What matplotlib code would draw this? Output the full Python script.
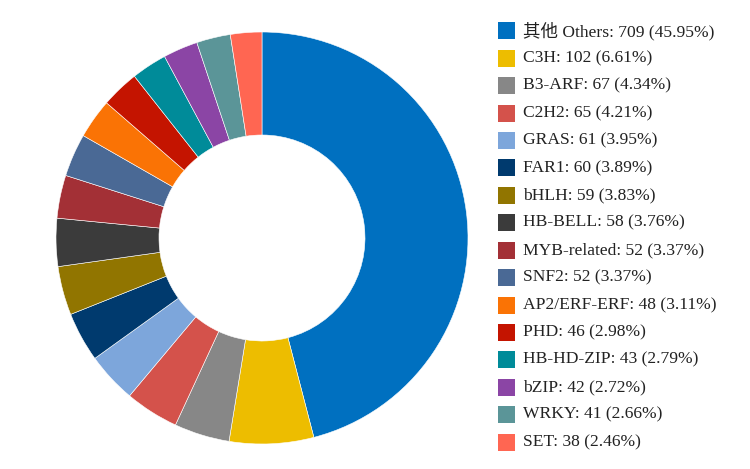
import matplotlib
matplotlib.use('Agg')
import matplotlib.pyplot as plt
from matplotlib.patches import Rectangle

families = ['其他 Others', 'C3H', 'B3-ARF', 'C2H2', 'GRAS', 'FAR1', 'bHLH', 'HB-BELL',
            'MYB-related', 'SNF2', 'AP2/ERF-ERF', 'PHD', 'HB-HD-ZIP', 'bZIP', 'WRKY', 'SET']
counts = [709, 102, 67, 65, 61, 60, 59, 58, 52, 52, 48, 46, 43, 42, 41, 38]
percents = [45.95, 6.61, 4.34, 4.21, 3.95, 3.89, 3.83, 3.76, 3.37, 3.37, 3.11, 2.98,
            2.79, 2.72, 2.66, 2.46]
colors = ['#0070C0', '#EDBD00', '#878787', '#D4524B', '#7DA6DB', '#003A6E', '#917500',
          '#3B3B3B', '#A33036', '#4A6995', '#FA7305', '#C41400', '#008B99', '#8B45A5',
          '#5B9598', '#FF6652']

W, H = 750, 469
fig = plt.figure(figsize=(W / 100, H / 100), dpi=100)

# donut: centre (262, 238) px, radius 206 px
cx, cy, r = 262, 238, 206
ax = fig.add_axes([(cx - r) / W, (H - cy - r) / H, 2 * r / W, 2 * r / H])
ax.pie(counts, colors=colors, startangle=90, counterclock=False, radius=1,
       wedgeprops=dict(width=0.5, edgecolor='white', linewidth=0.4))
ax.set_xlim(-1, 1)
ax.set_ylim(-1, 1)
ax.set_aspect('equal')
ax.axis('off')

# legend drawn by hand so the rows line up with the reference
font = ['Liberation Serif', 'Noto Sans CJK SC']
y0, step, sq = 31, 27.4, 17
for i, (name, n, p) in enumerate(zip(families, counts, percents)):
    yc = y0 + i * step
    fig.patches.append(Rectangle((498 / W, (H - yc - sq / 2) / H), sq / W, sq / H,
                                 transform=fig.transFigure, facecolor=colors[i],
                                 edgecolor='none'))
    fig.text(523 / W, (H - yc) / H, f'{name}: {n} ({p:.2f}%)', va='center', ha='left',
             fontsize=12.6, family=font, color='#222222')

fig.savefig('out.png', dpi=100)
